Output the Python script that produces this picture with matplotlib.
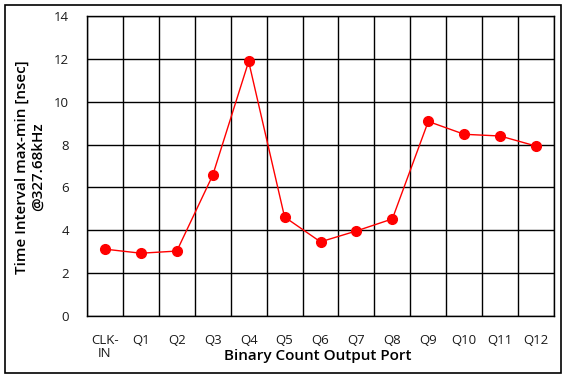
import numpy as np
import matplotlib
matplotlib.use("Agg")
import matplotlib.pyplot as plt
from matplotlib.patches import Rectangle

# data
ports = ["CLK-\nIN", "Q1", "Q2", "Q3", "Q4", "Q5", "Q6", "Q7", "Q8", "Q9", "Q10", "Q11", "Q12"]
interval_ns = [3.12, 2.93, 3.03, 6.57, 11.88, 4.62, 3.46, 3.97, 4.53, 9.08, 8.48, 8.40, 7.93]
y_ticks = [0, 2, 4, 6, 8, 10, 12, 14]

plt.rcParams['font.family'] = ['Open Sans', 'DejaVu Sans']

W, H = 568, 379
fig = plt.figure(figsize=(W / 100, H / 100), dpi=100)

# plot area in pixels: left 87, right 554, top 16, bottom 316
ax = fig.add_axes([87 / W, 1 - 316 / H, (554 - 87) / W, (316 - 16) / H])

x = np.arange(len(ports))
ax.plot(x, interval_ns, color='red', lw=1.0, marker='o', ms=7,
        markerfacecolor='red', markeredgecolor='red', zorder=3)

ax.set_xlim(-0.5, len(ports) - 0.5)
ax.set_ylim(0, 14)
ax.set_yticks(y_ticks)
ax.set_xticks(x)
ax.set_xticklabels(ports, fontsize=9.5, linespacing=1.0)
ax.tick_params(axis='both', length=0, labelsize=9.5, colors='#1a1a1a')
ax.tick_params(axis='x', pad=13)
ax.tick_params(axis='y', pad=13)

# category boundary grid + horizontal grid
for b in np.arange(-0.5, len(ports), 1.0):
    ax.axvline(b, color='black', lw=1.0, zorder=1)
for t in y_ticks:
    ax.axhline(t, color='black', lw=1.0, zorder=1)
for s in ax.spines.values():
    s.set_linewidth(1.0)

fig.text(318 / W, 1 - 356 / H, "Binary Count Output Port", fontsize=11,
         fontweight='semibold', ha='center', va='center')
fig.text(30 / W, 1 - 167 / H, "Time Interval max-min [nsec]\n@327.68kHz", fontsize=11,
         fontweight='semibold', ha='center', va='center', rotation=90,
         linespacing=1.2, multialignment='center')

# outer chart border
fig.patches.append(Rectangle((5 / W, 1 - 373 / H), (561 - 5) / W, (373 - 5) / H,
                             transform=fig.transFigure, fill=False,
                             edgecolor='black', lw=1.2))

fig.savefig("out.png", dpi=100)
